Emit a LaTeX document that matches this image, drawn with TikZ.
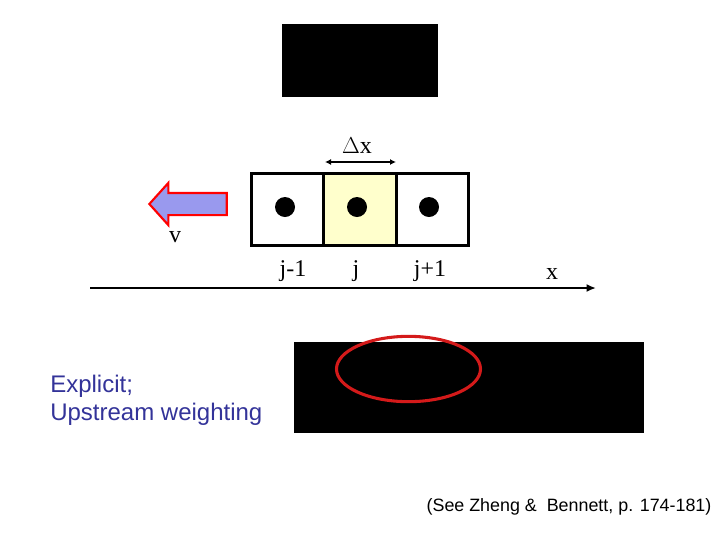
\documentclass[tikz,border=0pt]{standalone}
\usepackage{fontspec}
\setmainfont{Liberation Serif}
\newfontfamily\arialfont{Liberation Sans}
\usepackage{xcolor}
\usepackage{tikz}
\usetikzlibrary{positioning,shapes.geometric,shapes.arrows,arrows.meta}
\definecolor{cellyellow}{HTML}{FFFFCC}
\definecolor{arrowfill}{HTML}{9999EE}
\definecolor{ringred}{HTML}{D41A1A}
\definecolor{noteblue}{HTML}{333399}

\begin{document}
\begin{tikzpicture}[x=0.75pt,y=-0.75pt,
  cell/.style={draw,line width=2.4pt,minimum width=54.25pt,minimum height=54pt,outer sep=0pt,inner sep=0pt},
  dot/.style={circle,fill=black,minimum size=15pt,inner sep=0pt},
  lbl/.style={font=\fontsize{18}{21}\selectfont,inner sep=0pt,anchor=base},
  note/.style={font=\arialfont\fontsize{18}{21}\selectfont,text=noteblue,align=left,inner sep=0pt},
  blackbox/.style={fill=black,inner sep=0pt,outer sep=0pt},
  arr/.style={-{Latex[length=7pt,width=6pt]},line width=1.5pt}]
\useasboundingbox (0,0) rectangle (720,540);
% hidden figures
\node[blackbox,minimum width=117pt,minimum height=54.75pt] (figtop) at (360,60.5) {};
\node[blackbox,minimum width=262.5pt,minimum height=68.25pt] (figbot) at (468.5,387.5) {};
\node[ellipse,draw=ringred,line width=2.3pt,minimum width=108pt,minimum height=49pt,inner sep=0pt] (ring) at (408.5,369) {};
% grid cells
\node[cell] (cm) at (287.7,209.5) {};
\node[cell,fill=cellyellow,right=0pt of cm] (cj) {};
\node[cell,right=0pt of cj] (cp) {};
\node[dot] (dm) at (285,207) {};
\node[dot] (dj) at (357,207) {};
\node[dot] (dp) at (429,207) {};
\node[lbl] (lm) at (293,276) {j-1};
\node[lbl] (lj) at (356,276) {j};
\node[lbl] (lp) at (430,276) {j+1};
% spacing
\node[lbl] (dx) at (357,153) {$\Delta$x};
\coordinate (dxa) at (325,162);
\coordinate (dxb) at (396,162);
\draw[{Latex[length=4.5pt,width=4.5pt]}-{Latex[length=4.5pt,width=4.5pt]},line width=0.9pt] (dxa) -- (dxb);
% velocity
\node[single arrow,draw=red,fill=arrowfill,line width=1.6pt,rotate=180,
  minimum height=58pt,minimum width=30pt,single arrow head extend=7.5pt,
  single arrow tip angle=96,inner sep=7.5pt] (vel) at (193,204) {};
\node[lbl] (v) at (175,242) {v};
% axis
\coordinate (xa) at (90,288);
\coordinate (xb) at (596,288);
\draw[arr] (xa) -- (xb);
\node[lbl] (xl) at (552,279) {x};
% notes
\node[note,anchor=west] (scheme) at (50,400) {Explicit;\\Upstream weighting};
\node[font=\arialfont\fontsize{13.4}{16}\selectfont,inner sep=0pt] (ref) at (569,507) {(See Zheng \&\ \ Bennett, p. 174-181)};
\end{tikzpicture}
\end{document}
